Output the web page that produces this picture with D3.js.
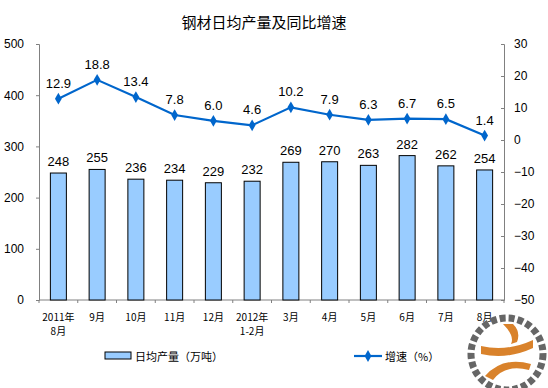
<!DOCTYPE html>
<meta charset="utf-8">
<script src="https://d3js.org/d3.v7.min.js"></script>
<style>
  body { margin: 0; background: #fff; }
  text { font-family: "Liberation Sans", Arial, sans-serif; }
  .cn { font-family: "Noto Sans CJK SC", sans-serif; }
</style>
<div id="chart"></div>
<script>
// Data
var months = [["2011年", "8月"], ["9月"], ["10月"], ["11月"], ["12月"], ["2012年", "1-2月"],
              ["3月"], ["4月"], ["5月"], ["6月"], ["7月"], ["8月"]];
var output = [248, 255, 236, 234, 229, 232, 269, 270, 263, 282, 262, 254];
var growth = [12.9, 18.8, 13.4, 7.8, 6.0, 4.6, 10.2, 7.9, 6.3, 6.7, 6.5, 1.4];
var leftTicks = [0, 100, 200, 300, 400, 500];
var rightTicks = [-50, -40, -30, -20, -10, 0, 10, 20, 30];

var W = 548, H = 388;
var m = {left: 39, right: 44, top: 44, bottom: 88};
var pw = W - m.left - m.right, ph = H - m.top - m.bottom;

var svg = d3.select("#chart").append("svg").attr("width", W).attr("height", H);

// title
svg.append("text").attr("class", "cn")
  .attr("x", 264).attr("y", 28).attr("text-anchor", "middle")
  .style("font-size", "15px").text("钢材日均产量及同比增速");

var g = svg.append("g").attr("transform", "translate(" + m.left + "," + m.top + ")");

var x = d3.scaleBand().domain(d3.range(months.length)).range([0, pw]);
var yL = d3.scaleLinear().domain([0, 500]).range([ph, 0]);
var yR = d3.scaleLinear().domain([-50, 30]).range([ph, 0]);

// axes
var axL = g.append("g").call(d3.axisLeft(yL).tickValues(leftTicks).tickSize(3).tickPadding(12));
var axR = g.append("g").attr("transform", "translate(" + pw + ",0)")
  .call(d3.axisRight(yR).tickValues(rightTicks).tickSize(-3).tickPadding(10));
[axL, axR].forEach(function (a) {
  a.selectAll("path, line").attr("stroke", "#808080");
  a.selectAll("text").style("font-size", "12px").attr("fill", "#000");
});

// bottom axis with tick marks between categories
var axB = g.append("g").attr("transform", "translate(0," + ph + ")");
axB.append("line").attr("x1", 0).attr("x2", pw).attr("stroke", "#808080");
axB.selectAll("line.tk").data(d3.range(months.length + 1)).enter().append("line")
  .attr("class", "tk")
  .attr("x1", function (d) { return d * x.step(); })
  .attr("x2", function (d) { return d * x.step(); })
  .attr("y1", 0).attr("y2", 3).attr("stroke", "#808080");
var lbl = axB.selectAll("text.cat").data(months).enter().append("text")
  .attr("class", "cn cat").attr("text-anchor", "middle")
  .style("font-size", "10px")
  .attr("transform", function (d, i) { return "translate(" + (x(i) + x.bandwidth() / 2) + ",0)"; });
lbl.selectAll("tspan").data(function (d) { return d; }).enter().append("tspan")
  .attr("x", 0).attr("y", function (d, i) { return 21 + i * 14; }).text(function (d) { return d; });

// bars
var bw = 16;
g.selectAll("rect.bar").data(output).enter().append("rect")
  .attr("class", "bar")
  .attr("x", function (d, i) { return x(i) + x.bandwidth() / 2 - bw / 2; })
  .attr("y", function (d) { return yL(d); })
  .attr("width", bw).attr("height", function (d) { return ph - yL(d); })
  .attr("fill", "#99CCFF").attr("stroke", "#000").attr("stroke-width", 1);
g.selectAll("text.bv").data(output).enter().append("text")
  .attr("x", function (d, i) { return x(i) + x.bandwidth() / 2; })
  .attr("y", function (d) { return yL(d) - 7; })
  .attr("text-anchor", "middle").style("font-size", "13px").text(function (d) { return d; });

// line
var line = d3.line()
  .x(function (d, i) { return x(i) + x.bandwidth() / 2; })
  .y(function (d) { return yR(d); });
g.append("path").datum(growth).attr("d", line)
  .attr("fill", "none").attr("stroke", "#0066CC").attr("stroke-width", 2.2);
g.selectAll("path.mk").data(growth).enter().append("path")
  .attr("class", "mk")
  .attr("d", d3.symbol().type(d3.symbolDiamond).size(40))
  .attr("transform", function (d, i) { return "translate(" + (x(i) + x.bandwidth() / 2) + "," + yR(d) + ")"; })
  .attr("fill", "#0066CC");
g.selectAll("text.lv").data(growth).enter().append("text")
  .attr("x", function (d, i) { return x(i) + x.bandwidth() / 2; })
  .attr("y", function (d) { return yR(d) - 11; })
  .attr("text-anchor", "middle").style("font-size", "13px").text(function (d) { return d.toFixed(1); });

// legend
var lg = svg.append("g");
lg.append("rect").attr("x", 105).attr("y", 352).attr("width", 26).attr("height", 7)
  .attr("fill", "#99CCFF").attr("stroke", "#000");
lg.append("text").attr("class", "cn").attr("x", 135).attr("y", 361)
  .style("font-size", "11px").text("日均产量（万吨）");
lg.append("line").attr("x1", 354).attr("x2", 382).attr("y1", 356).attr("y2", 356)
  .attr("stroke", "#0066CC").attr("stroke-width", 2.2);
lg.append("path").attr("d", d3.symbol().type(d3.symbolDiamond).size(40))
  .attr("transform", "translate(368,356)").attr("fill", "#0066CC");
lg.append("text").attr("class", "cn").attr("x", 385).attr("y", 361)
  .style("font-size", "11px").text("增速（%）");

// watermark logo (rough)
var logo = svg.append("g").attr("transform", "translate(507,354)");
logo.append("circle").attr("r", 36).attr("fill", "none").attr("stroke", "#666")
  .attr("stroke-width", 7).attr("stroke-dasharray", "6 3");
logo.append("circle").attr("r", 31).attr("fill", "#fff");
logo.append("path").attr("d", "M-26,-8 Q0,-2 26,-14 L26,-6 Q0,6 -26,0 Z").attr("fill", "#D9822B");
logo.append("path").attr("d", "M-22,22 Q-4,2 24,10 L22,16 Q-2,10 -14,26 Z").attr("fill", "#D9822B");
logo.append("path").attr("d", "M-4,-30 Q8,-18 4,-10 L10,-12 Q14,-22 6,-30 Z").attr("fill", "#D9822B");
</script>
